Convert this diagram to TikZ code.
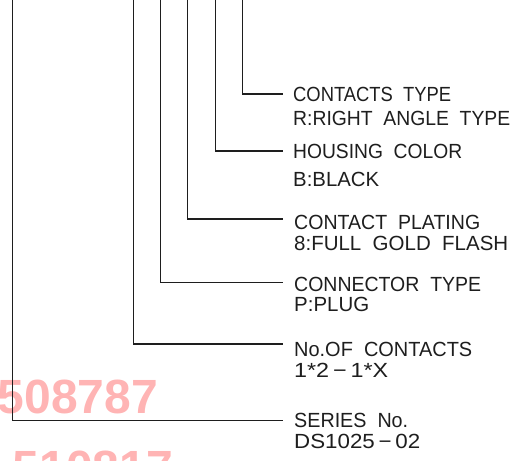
\documentclass[tikz,border=0pt]{standalone}
\usepackage{fontspec}
\setmainfont{Liberation Sans}
\usepackage{graphicx}
\definecolor{wm}{RGB}{255,180,180}
\definecolor{leadc}{RGB}{30,30,30}
\newcommand{\fitlbl}[2]{\resizebox{#1pt}{14.3pt}{#2}}
\begin{document}
\begin{tikzpicture}[x=1pt,y=-1pt,
  lead/.style={line width=1.1pt, draw=leadc},
  lbl/.style={anchor=base west, inner sep=0pt, text=leadc},
  wmark/.style={anchor=base east, inner sep=0pt, text=wm, font=\fontsize{48}{50}\selectfont\bfseries}]
\useasboundingbox (0,0) rectangle (518,460);
\clip (0,0) rectangle (518,460);
\fill[white] (0,0) rectangle (518,460);
% watermark
\node[wmark] (w1) at (158,413) {508787};
\node[wmark] (w2) at (173,484) {510817};
% leader tops and ends
\coordinate (v1) at (242.7,-2); \coordinate (e1) at (283,94);
\coordinate (v2) at (215.2,-2); \coordinate (e2) at (283,151);
\coordinate (v3) at (187.8,-2); \coordinate (e3) at (283,219);
\coordinate (v4) at (160.5,-2); \coordinate (e4) at (283,282.5);
\coordinate (v5) at (133.5,-2); \coordinate (e5) at (283,344);
\coordinate (v6) at (12.7,-2);  \coordinate (e6) at (283,420.5);
\draw[lead] (v1) |- (e1);
\draw[lead] (v2) |- (e2);
\draw[lead] (v3) |- (e3);
\draw[lead] (v4) |- (e4);
\draw[lead] (v5) |- (e5);
\draw[lead] (v6) |- (e6);
% labels
\node[lbl] (t1a) at (293,101.5) {\fitlbl{158}{CONTACTS\ \ TYPE}};
\node[lbl] (t1b) at (293,125) {\fitlbl{217}{R:RIGHT\ \ ANGLE\ \ TYPE}};
\node[lbl] (t2a) at (293,158) {\fitlbl{169}{HOUSING\ \ COLOR}};
\node[lbl] (t2b) at (293,186) {\fitlbl{86}{B:BLACK}};
\node[lbl] (t3a) at (294,229.5) {\fitlbl{186}{CONTACT\ \ PLATING}};
\node[lbl] (t3b) at (294,250.5) {\fitlbl{214}{8:FULL\ \ GOLD\ \ FLASH}};
\node[lbl] (t4a) at (294,291) {\fitlbl{187}{CONNECTOR\ \ TYPE}};
\node[lbl] (t4b) at (294,311) {\fitlbl{75}{P:PLUG}};
\node[lbl] (t5a) at (294,356.5) {\fitlbl{178}{No.OF\ \ CONTACTS}};
\node[lbl] (t5b) at (294,377.5) {\fitlbl{94}{1*2\,\textminus\,1*X}};
\node[lbl] (t6a) at (294,427) {\fitlbl{114}{SERIES\ \ No.}};
\node[lbl] (t6b) at (294,448.5) {\fitlbl{126}{DS1025\,\textminus\,02}};
\end{tikzpicture}
\end{document}
